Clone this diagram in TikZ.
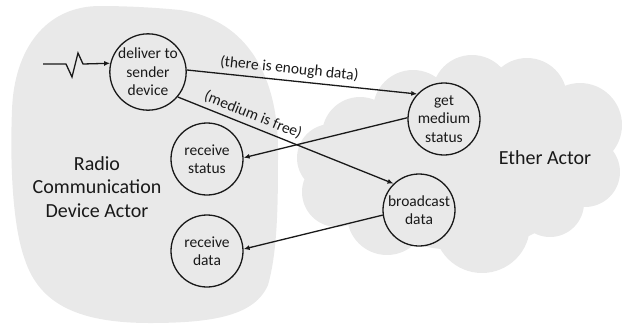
\documentclass[tikz,border=0pt]{standalone}
\usepackage{fontspec}
\setmainfont{Carlito}
\usetikzlibrary{arrows.meta}
\definecolor{blobfill}{RGB}{233,233,233}
\definecolor{inkc}{RGB}{25,25,25}
\begin{document}
\begin{tikzpicture}[x=1pt,y=-1pt,
  proc/.style={circle,draw=inkc,line width=1.3pt,minimum size=72pt,inner sep=0pt,align=center,font=\fontsize{15.5}{18.5}\selectfont,text=inkc},
  flow/.style={draw=inkc,line width=1.3pt,-{Latex[length=6pt,width=5pt]}},
  lbl/.style={font=\fontsize{15.5}{18}\selectfont,text=inkc,inner sep=1pt},
  actor/.style={font=\fontsize{20}{23.5}\selectfont,align=center,text=inkc}]
\useasboundingbox (0,0) rectangle (624,325);
% left actor blob
\fill[blobfill] (100,6) .. controls (130,6) and (160,8) .. (180,10)
  .. controls (250,20) and (278,80) .. (278,150)
  .. controls (278,200) and (278,250) .. (268,285)
  .. controls (255,315) and (215,323) .. (150,323)
  .. controls (80,323) and (40,305) .. (25,260)
  .. controls (12,225) and (10,160) .. (12,110)
  .. controls (14,50) and (45,6) .. (100,6) -- cycle;
% ether cloud
\fill[blobfill]
  (360,135) circle[radius=38pt]
  (413,110) circle[radius=40pt]
  (472,95) circle[radius=40pt]
  (527,98) circle[radius=40pt]
  (580,125) circle[radius=42pt]
  (585,172) circle[radius=35pt]
  (550,203) circle[radius=34pt]
  (482,225) circle[radius=48pt]
  (387,215) circle[radius=40pt]
  (337,192) circle[radius=35pt]
  (331,158) circle[radius=34pt]
  (460,165) ellipse[x radius=125pt,y radius=85pt];
% actor titles
\node[actor] (ra) at (97,187) {Radio\\Communication\\Device Actor};
\node[actor] (ea) at (545,158) {Ether Actor};
% processes
\node[proc] (d) at (148,72) {deliver to\\sender\\device};
\node[proc] (g) at (444,119) {get\\medium\\status};
\node[proc] (rs) at (207,159) {receive\\status};
\node[proc] (b) at (419,210) {broadcast\\data};
\node[proc] (rd) at (207,251) {receive\\data};
% input signal
\coordinate (s0) at (43,64);
\draw[flow] (s0) -- (66,64) -- (72,77) -- (78,53) -- (83,64) -- (d.167);
% flows
\draw[flow] (d.3) -- node[lbl,pos=0.44,above=3pt,sloped] {(there is enough data)} (g.137);
\draw[flow] (d.-40) -- node[lbl,pos=0.33,above=3pt,sloped] {(medium is free)} (b.134);
\draw[flow] (g.178) -- (rs.2);
\draw[flow] (b.188) -- (rd.3);
\end{tikzpicture}
\end{document}
